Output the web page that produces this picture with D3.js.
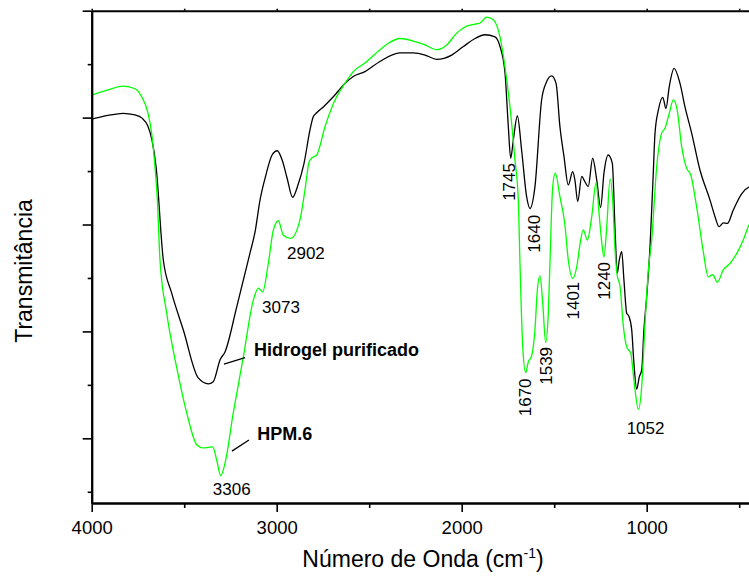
<!DOCTYPE html>
<html>
<head>
<meta charset="utf-8">
<script src="https://cdn.jsdelivr.net/npm/d3@7"></script>
<style>
  body { margin: 0; background: #fff; }
  text { font-family: "Liberation Sans", Arial, sans-serif; fill: #000; }
</style>
</head>
<body>
<svg id="ftir"></svg>
<script>
// wavenumbers (cm-1) and transmittance (arb. units)
const wnHidrogel = [4000,3912,3831,3766,3728,3696,3674,3652,3613,3568,3505,3424,3370,3343,3306,3279,3216,3144,3117,3090,3058,3025,2997,2971,2944,2914,2885,2852,2820,2802,2784,2748,2694,2631,2586,2523,2442,2334,2262,2198,2135,2054,1991,1928,1874,1820,1793,1766,1748,1735,1721,1699,1676,1649,1631,1604,1568,1541,1514,1490,1469,1447,1424,1400,1388,1373,1351,1334,1316,1292,1270,1249,1231,1208,1186,1171,1159,1148,1135,1123,1108,1096,1081,1069,1054,1040,1027,1015,1000,982,966,955,937,913,896,878,852,820,793,757,712,658,631,609,586,564,532,486,447,420];
const tHidrogel = [6.97,7.04,7.08,7.05,6.99,6.84,6.58,6.08,4.34,3.72,3.03,2.13,2.02,2.06,2.47,2.62,3.46,4.47,4.86,5.46,5.93,6.30,6.38,6.21,5.87,5.51,5.74,6.15,6.77,7.02,7.09,7.20,7.39,7.64,7.77,7.86,8.05,8.21,8.21,8.17,8.09,8.17,8.33,8.48,8.55,8.51,8.33,7.84,6.83,6.24,6.58,7.03,6.39,5.52,5.30,5.71,7.33,7.67,7.78,7.64,6.83,6.27,5.74,5.99,5.83,5.43,5.90,5.80,5.71,6.24,5.83,5.32,5.96,6.30,6.15,4.90,4.09,4.34,4.49,3.96,3.34,3.28,3.03,2.40,1.92,2.15,2.28,3.03,3.65,4.59,5.83,6.71,7.14,7.38,7.17,7.58,7.92,7.64,7.20,6.71,6.02,5.46,5.15,4.96,5.03,5.02,5.27,5.58,5.70,5.72];

const wnHPM = [4000,3912,3829,3766,3730,3696,3676,3658,3645,3631,3595,3541,3486,3432,3398,3370,3346,3324,3303,3279,3235,3180,3126,3099,3076,3045,3018,2991,2964,2924,2874,2847,2825,2811,2784,2739,2685,2631,2586,2523,2442,2397,2334,2252,2198,2135,2081,2027,1973,1928,1901,1865,1829,1793,1766,1739,1712,1694,1685,1670,1654,1640,1622,1604,1591,1577,1562,1546,1532,1523,1508,1494,1469,1442,1424,1400,1378,1361,1343,1321,1297,1274,1256,1243,1231,1217,1198,1184,1171,1160,1144,1126,1108,1086,1069,1045,1027,1009,991,973,946,919,901,878,856,835,811,784,762,730,694,667,643,618,586,550,513,478,447,420];
const tHPM = [7.42,7.52,7.59,7.54,7.39,7.09,6.71,6.08,5.46,4.34,3.35,2.33,1.47,0.88,0.82,0.83,0.84,0.59,0.30,0.54,1.47,2.53,3.59,3.81,3.74,4.28,4.90,5.07,4.80,4.74,5.09,5.65,6.17,6.24,6.30,6.83,7.33,7.64,7.86,8.02,8.27,8.39,8.48,8.42,8.36,8.27,8.36,8.58,8.71,8.75,8.77,8.88,8.83,8.51,7.95,7.20,6.21,5.46,4.28,2.71,2.23,2.43,2.54,3.03,3.78,4.04,3.53,2.79,3.34,4.27,5.71,5.96,5.52,4.99,4.34,3.99,4.21,4.62,4.90,4.71,5.15,5.78,5.15,4.67,4.39,4.90,5.85,5.46,4.52,4.06,3.84,3.09,2.71,2.59,2.09,1.54,1.97,3.15,4.15,4.71,6.08,6.71,6.80,7.08,7.33,7.14,6.46,6.05,5.93,5.33,4.49,4.02,4.06,3.92,4.15,4.27,4.46,4.71,4.99,5.10];

// peak labels: text, wavenumber and level where the label sits
const peakText = ["3306","3073","2902","1052","1745","1640","1670","1539","1401","1240"];
const peakWn   = [3243, 2977, 2842, 1006, 1743, 1608, 1658, 1543, 1400, 1231];
const peakT    = [-0.06, 3.34, 4.35, 1.08, 6.15, 5.18, 2.12, 2.71, 3.93, 4.30];
const peakRot  = [false,false,false,false,true,true,true,true,true,true];

// series names with label position and leader line (wavenumber, level)
const seriesNames = ["Hidrogel purificado", "HPM.6"];
const seriesColors = ["#000000", "#00ff00"];
const nameWn = [3123, 3105];
const nameT = [2.54, 0.97];
const leaderWn = [[3285, 3171], [3242, 3150]];
const leaderT = [[2.39, 2.51], [0.76, 0.97]];

const xMajor = [4000, 3000, 2000, 1000];
const xMinor = [3500, 2500, 1500, 500];
const yMajor = [1, 3, 5, 7, 9];
const yMinor = [0, 2, 4, 6, 8];

let width = 749, height = 585;
let plot = { left: 91.7, right: 749, top: 10.7, bottom: 503 };

let svg = d3.select("#ftir")
    .attr("width", width)
    .attr("height", height);

let xScale = d3.scaleLinear().domain([4000, 447]).range([plot.left, plot.right]);
let yScale = d3.scaleLinear().domain([-0.21, 9.0]).range([plot.bottom, plot.top]);

svg.append("clipPath").attr("id", "clip")
    .append("rect")
    .attr("x", plot.left).attr("y", plot.top)
    .attr("width", plot.right - plot.left)
    .attr("height", plot.bottom - plot.top);

// curves
let line = d3.line()
    .x(d => xScale(d[0]))
    .y(d => yScale(d[1]))
    .curve(d3.curveMonotoneX);

let series = [
    d3.zip(wnHidrogel, tHidrogel),
    d3.zip(wnHPM, tHPM)
];

svg.append("g").attr("clip-path", "url(#clip)")
    .selectAll("path")
    .data(series)
    .enter()
    .append("path")
    .attr("fill", "none")
    .attr("stroke", (d, i) => seriesColors[i])
    .attr("stroke-width", 1.3)
    .attr("d", line);

// axes
const styleAxis = g => {
    g.select(".domain").attr("stroke-width", 2);
    g.selectAll(".tick line").attr("stroke-width", 1.6);
};

svg.append("g")
    .attr("transform", `translate(0, ${plot.bottom})`)
    .call(d3.axisBottom(xScale).tickValues(xMinor).tickSize(5).tickSizeOuter(0).tickFormat(""))
    .call(styleAxis);

svg.append("g")
    .attr("transform", `translate(0, ${plot.bottom})`)
    .call(d3.axisBottom(xScale).tickValues(xMajor).tickSize(9).tickSizeOuter(0).tickPadding(9).tickFormat(d3.format("d")))
    .call(styleAxis)
    .selectAll("text")
    .style("font-size", "18.5px")
    .style("font-family", "Liberation Sans, Arial, sans-serif");

svg.append("g")
    .attr("transform", `translate(0, ${plot.top})`)
    .call(d3.axisTop(xScale).tickValues(xMajor.concat(xMinor)).tickSize(2).tickSizeOuter(0).tickFormat(""))
    .call(styleAxis);

svg.append("g")
    .attr("transform", `translate(${plot.left}, 0)`)
    .call(d3.axisLeft(yScale).tickValues(yMinor).tickSize(4).tickSizeOuter(0).tickFormat(""))
    .call(styleAxis);

svg.append("g")
    .attr("transform", `translate(${plot.left}, 0)`)
    .call(d3.axisLeft(yScale).tickValues(yMajor).tickSize(9).tickSizeOuter(0).tickFormat(""))
    .call(styleAxis);

// axis titles
let xTitle = svg.append("text")
    .attr("x", 423)
    .attr("y", 566.5)
    .attr("text-anchor", "middle")
    .style("font-size", "23px");
xTitle.append("tspan").text("Número de Onda (cm");
xTitle.append("tspan").attr("dy", -9).style("font-size", "14px").text("-1");
xTitle.append("tspan").attr("dy", 9).text(")");

svg.append("text")
    .attr("transform", "translate(32, 271) rotate(-90)")
    .attr("text-anchor", "middle")
    .style("font-size", "23px")
    .text("Transmitância");

// peak labels
peakText.forEach((t, i) => {
    let px = xScale(peakWn[i]), py = yScale(peakT[i]);
    let label = svg.append("text").style("font-size", "17px").text(t);
    if (peakRot[i]) {
        label.attr("transform", `translate(${px}, ${py}) rotate(-90)`)
            .attr("text-anchor", "end")
            .attr("dy", "0.36em");
    } else {
        label.attr("x", px).attr("y", py).attr("text-anchor", "middle");
    }
});

// series names with leader lines
seriesNames.forEach((name, i) => {
    svg.append("line")
        .attr("x1", xScale(leaderWn[i][0])).attr("y1", yScale(leaderT[i][0]))
        .attr("x2", xScale(leaderWn[i][1])).attr("y2", yScale(leaderT[i][1]))
        .attr("stroke", "#000")
        .attr("stroke-width", 1.3);
    svg.append("text")
        .attr("x", xScale(nameWn[i]))
        .attr("y", yScale(nameT[i]))
        .style("font-size", "18px")
        .style("font-weight", "bold")
        .text(name);
});
</script>
</body>
</html>
